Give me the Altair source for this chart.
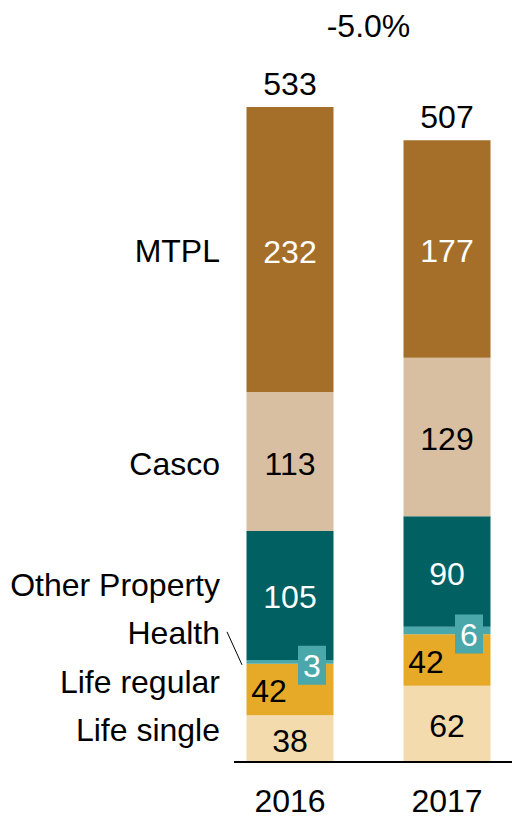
import altair as alt
import pandas as pd

# ---------------- data ----------------
years = ["2016", "2017"]
categories = ["Life single", "Life regular", "Health", "Other Property", "Casco", "MTPL"]
values_2016 = [38, 42, 3, 105, 113, 232]
values_2017 = [62, 42, 6, 90, 129, 177]
totals = [533, 507]
change_label = "-5.0%"

# ---------------- styling ----------------
FONT = "Liberation Sans"
FS = 32
colors = ["#F4DBAE", "#E6AA28", "#4AA7AA", "#006062", "#D9BFA2", "#A56F2A"]
label_colors = ["black", "black", "white", "white", "black", "white"]
# pixel nudges of left-hand category labels relative to the 2016 segment middle
left_label_nudge = [-9, -8, -29, -11, 2, 1]

W, H = 504, 810
Y_MAX = 533
Y_RANGE = [754, 99]
PX = (Y_RANGE[0] - Y_RANGE[1]) / Y_MAX

rows = []
for year, vals in zip(years, [values_2016, values_2017]):
    s = 0
    for cat, v, lc in zip(categories, vals, label_colors):
        rows.append(dict(year=year, category=cat, value=v, start=s, end=s + v,
                         mid=s + v / 2, label_color=lc))
        s += v
df = pd.DataFrame(rows)

tot_df = pd.DataFrame({
    "year": years,
    "total": totals,
    "top": [sum(values_2016), sum(values_2017)],
})

left = df[df.year == "2016"].copy()
left["nudge"] = left_label_nudge
left["label_y"] = left["mid"] - left["nudge"] / PX

xs = alt.Scale(type="point", domain=years, range=[282, 439], padding=0)
ys = alt.Scale(domain=[0, Y_MAX], range=Y_RANGE, nice=False, zero=True)
X = alt.X("year:N", scale=xs, axis=None)

base = alt.Chart(df)

bars = base.mark_bar(size=87).encode(
    x=X,
    y=alt.Y("start:Q", scale=ys, axis=None),
    y2="end:Q",
    color=alt.Color("category:N", scale=alt.Scale(domain=categories, range=colors), legend=None),
)

txt_kw = dict(font=FONT, fontSize=FS, baseline="alphabetic")

vals_main = base.transform_filter(
    "datum.category != 'Health' && datum.category != 'Life regular'"
).mark_text(dy=13, **txt_kw).encode(
    x=X,
    y=alt.Y("mid:Q", scale=ys),
    text="value:Q",
    color=alt.Color("label_color:N", scale=None),
)

vals_lr = base.transform_filter("datum.category == 'Life regular'").mark_text(
    dx=-21, dy=13, **txt_kw
).encode(
    x=X,
    y=alt.Y("mid:Q", scale=ys),
    text="value:Q",
    color=alt.Color("label_color:N", scale=None),
)

health = base.transform_filter("datum.category == 'Health'")
health_box = health.mark_point(
    shape="M-0.718,-1H0.718V1H-0.718Z", size=1521, filled=True, opacity=1,
    fill=colors[2], strokeWidth=0, xOffset=22, yOffset=3.5,
).encode(x=X, y=alt.Y("mid:Q", scale=ys))
health_txt = health.mark_text(dx=22, dy=15, color="white", **txt_kw).encode(
    x=X, y=alt.Y("mid:Q", scale=ys), text="value:Q"
)

tot_txt = alt.Chart(tot_df).mark_text(dy=-12.5, color="black", **txt_kw).encode(
    x=X, y=alt.Y("top:Q", scale=ys), text="total:Q"
)

year_txt = alt.Chart(tot_df).mark_text(color="black", **txt_kw).encode(
    x=X, y=alt.value(803.5), text="year:N"
)

change_txt = alt.Chart(pd.DataFrame({"t": [change_label]})).mark_text(
    color="black", **txt_kw
).encode(x=alt.value(360.5), y=alt.value(29), text="t:N")

left_txt = alt.Chart(left).mark_text(align="right", dy=11.5, color="black", **txt_kw).encode(
    x=alt.value(212), y=alt.Y("label_y:Q", scale=ys), text="category:N"
)

leader = alt.Chart(left[left.category == "Health"]).mark_rule(
    color="black", strokeWidth=1, yOffset=-1, y2Offset=3
).encode(
    x=alt.value(219), x2=alt.value(234),
    y=alt.Y("label_y:Q", scale=ys), y2="mid:Q",
)

baseline = alt.Chart(tot_df).mark_rule(color="black", strokeWidth=2.2).encode(
    x=alt.value(226), x2=alt.value(504), y=alt.datum(0, scale=ys)
)

chart = alt.layer(
    bars, vals_main, vals_lr, health_box, health_txt, tot_txt, year_txt,
    change_txt, left_txt, leader, baseline
).properties(
    width=W, height=H, autosize=alt.AutoSizeParams(type="none"), padding=0
).configure(background="white").configure_view(strokeWidth=0)

chart.save("out.html", embed_options={"renderer": "svg", "actions": False})
